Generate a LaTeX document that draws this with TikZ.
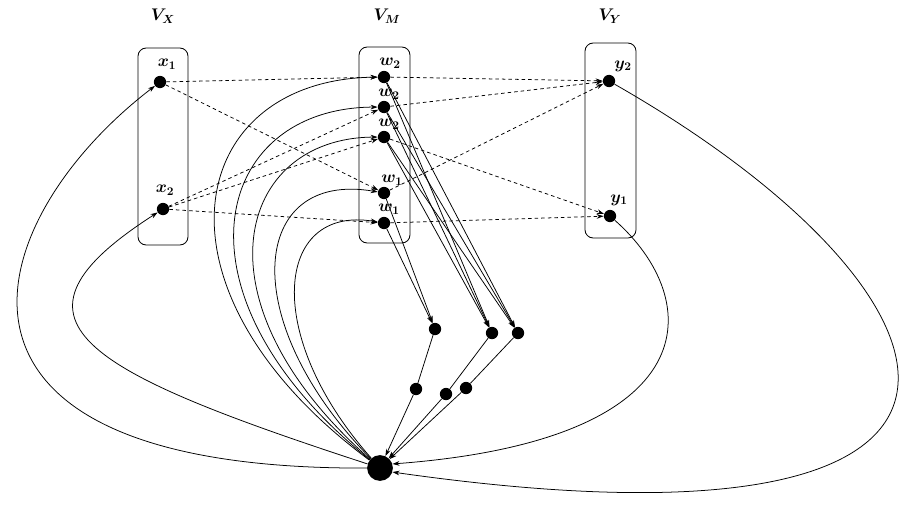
\documentclass[tikz,border=0pt]{standalone}
\usepackage{bm}
\usetikzlibrary{arrows.meta}
\begin{document}
\begin{tikzpicture}[x=0.03cm,y=-0.03cm,
  dot/.style={circle,fill=black,inner sep=0pt,minimum size=10.5pt},
  bigdot/.style={circle,fill=black,inner sep=0pt,minimum size=22pt},
  grp/.style={draw,rounded corners=7pt,line width=0.7pt,inner sep=0pt},
  lab/.style={font=\Large,inner sep=1pt},
  tlab/.style={font=\Large,inner sep=1pt},
  arr/.style={-{Stealth[length=6pt,width=4pt]},line width=0.65pt},
  dsh/.style={arr,dash pattern=on 3pt off 2.6pt},
  seg/.style={line width=0.65pt}]
\useasboundingbox (0,0) rectangle (902,504);
% group boxes
\node[grp,minimum width=1.5cm,minimum height=5.91cm] (VX) at (163,146.5) {};
\node[grp,minimum width=1.53cm,minimum height=5.88cm] (VM) at (384.5,145) {};
\node[grp,minimum width=1.53cm,minimum height=5.85cm] (VY) at (610.5,140.5) {};
\node[tlab] (tVX) at (163,16) {$\bm{V_X}$};
\node[tlab] (tVM) at (387,16) {$\bm{V_M}$};
\node[tlab] (tVY) at (610,16) {$\bm{V_Y}$};
% nodes
\node[dot] (x1) at (160,82) {};
\node[dot] (x2) at (163,209) {};
\node[dot] (wa) at (384,77) {};
\node[dot] (wb) at (384,107) {};
\node[dot] (wc) at (384,137) {};
\node[dot] (wd) at (384,193) {};
\node[dot] (we) at (384,223) {};
\node[dot] (y2) at (609,81) {};
\node[dot] (y1) at (610,216) {};
\node[dot] (A) at (435,329) {};
\node[dot] (B) at (492,333) {};
\node[dot] (C) at (518,333) {};
\node[dot] (D) at (416,389) {};
\node[dot] (E) at (446,394) {};
\node[dot] (F) at (466,388) {};
\node[bigdot] (Z) at (380,468) {};
% labels
\node[lab] (lx1) at (167,64) {$\bm{x_1}$};
\node[lab] (lx2) at (165,190) {$\bm{x_2}$};
\node[lab] (lwa) at (390,63) {$\bm{w_2}$};
\node[lab] (lwb) at (389,94) {$\bm{w_2}$};
\node[lab] (lwc) at (389,124) {$\bm{w_2}$};
\node[lab] (lwd) at (392,180) {$\bm{w_1}$};
\node[lab] (lwe) at (389,209) {$\bm{w_1}$};
\node[lab] (ly2) at (623,66) {$\bm{y_2}$};
\node[lab] (ly1) at (619,200) {$\bm{y_1}$};
% dashed edges
\draw[dsh] (x1) -- (wa);
\draw[dsh] (x1) -- (wd);
\draw[dsh] (x2) -- (wb);
\draw[dsh] (x2) -- (wc);
\draw[dsh] (x2) -- (we);
\draw[dsh] (wa) -- (y2);
\draw[dsh] (wb) -- (y2);
\draw[dsh] (wd) -- (y2);
\draw[dsh] (wc) -- (y1);
\draw[dsh] (we) -- (y1);
% w to A, B, C
\draw[arr] (wa) -- (B);
\draw[arr] (wa) -- (C);
\draw[arr] (wb) -- (B);
\draw[arr] (wb) -- (C);
\draw[arr] (wc) -- (B);
\draw[arr] (wc) -- (C);
\draw[arr] (wd) -- (A);
\draw[arr] (we) -- (A);
% chains to Z
\draw[seg] (A) -- (D);
\draw[seg] (B) -- (E);
\draw[seg] (C) -- (F);
\draw[arr] (D) -- (Z);
\draw[arr] (E) -- (Z);
\draw[arr] (F) -- (Z);
% Z back to x and w
\draw[arr] (Z) .. controls (-100,470) and (-20,220) .. (x1);
\draw[arr] (Z) .. controls (80,370) and (-10,320) .. (x2);
\draw[arr] (Z) .. controls (140,290) and (185,80) .. (wa);
\draw[arr] (Z) .. controls (165,295) and (212,108) .. (wb);
\draw[arr] (Z) .. controls (190,300) and (238,138) .. (wc);
\draw[arr] (Z) .. controls (235,320) and (250,170) .. (wd);
\draw[arr] (Z) .. controls (262,335) and (275,205) .. (we);
% y to Z
\draw[arr] (y1) .. controls (705,300) and (710,440) .. (Z.18);
\draw[arr] (y2) .. controls (975,290) and (1080,570) .. (Z.-18);
\end{tikzpicture}
\end{document}
